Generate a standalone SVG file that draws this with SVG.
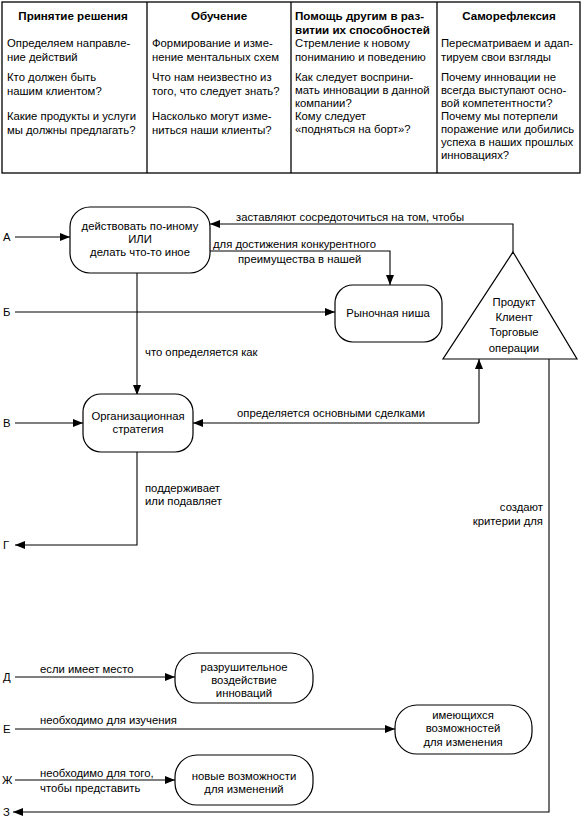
<svg xmlns="http://www.w3.org/2000/svg" width="582" height="822" viewBox="0 0 582 822">
<style>
text{font-family:"Liberation Sans",Arial,sans-serif;font-size:11.3px;fill:#000}
.h{font-weight:bold;font-size:11.6px}
.t{font-size:11.6px}
.l{font-size:11.6px}
.c{text-anchor:middle}
.r{text-anchor:end}
.box{fill:#fff;stroke:#000;stroke-width:1.2}
.ln{fill:none;stroke:#000;stroke-width:1.1}
.tb{fill:none;stroke:#000;stroke-width:1.3}
</style>
<defs>
<marker id="ah" markerUnits="userSpaceOnUse" markerWidth="10" markerHeight="8" refX="10" refY="4" orient="auto">
<path d="M0,0 L10,4 L0,8 z" fill="#000"/>
</marker>
</defs>
<rect width="582" height="822" fill="#fff"/>
<g id="table">
<rect class="tb" x="2" y="2" width="578" height="171"/>
<line class="tb" x1="147" y1="2" x2="147" y2="173"/>
<line class="tb" x1="291" y1="2" x2="291" y2="173"/>
<line class="tb" x1="437" y1="2" x2="437" y2="173"/>
<text class="h c" x="73" y="20">Принятие решения</text>
<text class="h c" x="219" y="20">Обучение</text>
<text class="h" x="295" y="20">Помощь другим в раз-</text>
<text class="h" x="295" y="34">витии их способностей</text>
<text class="h c" x="509" y="20">Саморефлексия</text>
<g class="t">
<text x="7" y="47">Определяем направле-</text>
<text x="7" y="61">ние действий</text>
<text x="7" y="81">Кто должен быть</text>
<text x="7" y="95">нашим клиентом?</text>
<text x="7" y="120">Какие продукты и услуги</text>
<text x="7" y="134">мы должны предлагать?</text>
<text x="152" y="47">Формирование и изме-</text>
<text x="152" y="61">нение ментальных схем</text>
<text x="152" y="81">Что нам неизвестно из</text>
<text x="152" y="95">того, что следует знать?</text>
<text x="152" y="120">Насколько могут изме-</text>
<text x="152" y="134">ниться наши клиенты?</text>
<text x="295" y="47">Стремление к новому</text>
<text x="295" y="61">пониманию и поведению</text>
<text x="295" y="81">Как следует восприни-</text>
<text x="295" y="94">мать инновации в данной</text>
<text x="295" y="107">компании?</text>
<text x="295" y="120">Кому следует</text>
<text x="295" y="133">«подняться на борт»?</text>
<text x="441" y="47">Пересматриваем и адап-</text>
<text x="441" y="61">тируем свои взгляды</text>
<text x="441" y="81">Почему инновации не</text>
<text x="441" y="94">всегда выступают осно-</text>
<text x="441" y="107">вой компетентности?</text>
<text x="441" y="120">Почему мы потерпели</text>
<text x="441" y="133">поражение или добились</text>
<text x="441" y="146">успеха в наших прошлых</text>
<text x="441" y="159">инновациях?</text>
</g>
</g>
<g id="connectors">
<path class="ln" d="M15,237 H70" marker-end="url(#ah)"/>
<path class="ln" d="M513,252 V224 H210" marker-end="url(#ah)"/>
<path class="ln" d="M210,251 H390 V285" marker-end="url(#ah)"/>
<path class="ln" d="M15,312 H335" marker-end="url(#ah)"/>
<path class="ln" d="M137,273 V395" marker-end="url(#ah)"/>
<path class="ln" d="M15,423 H83" marker-end="url(#ah)"/>
<path class="ln" d="M479,423 V359" marker-end="url(#ah)"/>
<path class="ln" d="M479,423 H193" marker-end="url(#ah)"/>
<path class="ln" d="M137,452 V545 H15" marker-end="url(#ah)"/>
<path class="ln" d="M549,359 V812 H13" marker-end="url(#ah)"/>
<path class="ln" d="M15,677 H175" marker-end="url(#ah)"/>
<path class="ln" d="M15,729 H395" marker-end="url(#ah)"/>
<path class="ln" d="M15,780 H175" marker-end="url(#ah)"/>
<g class="l">
<text x="236" y="221">заставляют сосредоточиться на том, чтобы</text>
<text x="213" y="248">для достижения конкурентного</text>
<text x="238" y="263">преимущества в нашей</text>
<text x="145" y="356">что определяется как</text>
<text x="237" y="417">определяется основными сделками</text>
<text x="145" y="492">поддерживает</text>
<text x="145" y="505">или подавляет</text>
<text class="r" x="543" y="511">создают</text>
<text class="r" x="543" y="525">критерии для</text>
<text x="40" y="673">если имеет место</text>
<text x="40" y="724">необходимо для изучения</text>
<text x="40" y="777">необходимо для того,</text>
<text x="40" y="792">чтобы представить</text>
</g>
</g>
<g id="labels">
<text x="3" y="241">А</text>
<text x="3" y="316">Б</text>
<text x="3" y="427">В</text>
<text x="3" y="549">Г</text>
<text x="3" y="681">Д</text>
<text x="3" y="733">Е</text>
<text x="2" y="784">Ж</text>
<text x="3" y="816">З</text>
</g>
<g id="node-act">
<rect class="box" x="70" y="207" width="140" height="66" rx="20"/>
<text class="c" x="140" y="230">действовать по-иному</text>
<text class="c" x="140" y="243">ИЛИ</text>
<text class="c" x="140" y="256">делать что-то иное</text>
</g>
<g id="node-niche">
<rect class="box" x="335" y="285" width="107" height="57" rx="18"/>
<text class="c" x="388" y="317">Рыночная ниша</text>
</g>
<g id="node-triangle">
<path class="box" d="M513,252 L577,359 L443,359 Z"/>
<text class="c" x="514" y="306">Продукт</text>
<text class="c" x="514" y="321">Клиент</text>
<text class="c" x="514" y="336">Торговые</text>
<text class="c" x="514" y="352">операции</text>
</g>
<g id="node-strategy">
<rect class="box" x="83" y="394" width="110" height="58" rx="18"/>
<text class="c" x="138" y="420">Организационная</text>
<text class="c" x="138" y="433">стратегия</text>
</g>
<g id="node-destructive">
<rect class="box" x="175" y="653" width="138" height="50" rx="22"/>
<text class="c" x="244" y="671">разрушительное</text>
<text class="c" x="244" y="684">воздействие</text>
<text class="c" x="244" y="697">инноваций</text>
</g>
<g id="node-existing">
<rect class="box" x="395" y="705" width="137" height="49" rx="22"/>
<text class="c" x="463" y="719">имеющихся</text>
<text class="c" x="463" y="732">возможностей</text>
<text class="c" x="463" y="746">для изменения</text>
</g>
<g id="node-new">
<rect class="box" x="175" y="755" width="138" height="50" rx="22"/>
<text class="c" x="244" y="780">новые возможности</text>
<text class="c" x="244" y="793">для изменений</text>
</g>
</svg>
